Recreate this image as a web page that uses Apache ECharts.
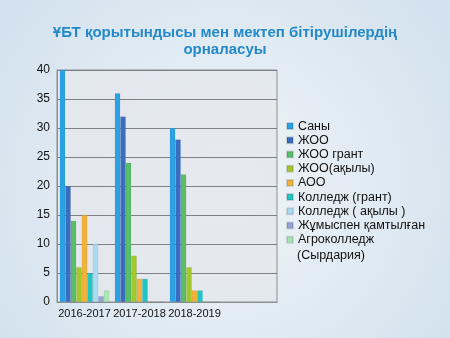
<!DOCTYPE html>
<html>
<head>
<meta charset="utf-8">
<script src="https://cdn.jsdelivr.net/npm/echarts@6/dist/echarts.min.js"></script>
<style>
  html, body { margin: 0; padding: 0; }
  #chart { width: 450px; height: 338px; }
</style>
</head>
<body>
<div id="chart"></div>
<script>
// School years (the last slot is left empty, giving the extra space on the right)
const years = ['2016-2017', '2017-2018', '2018-2019', ''];

// Graduates by destination, per year
const sany        = [40, 36, 30];
const zhoo        = [20, 32, 28];
const zhooGrant   = [14, 24, 22];
const zhooAkyly   = [6, 8, 6];
const aoo         = [15, 4, 2];
const kolGrant    = [5, 4, 2];
const kolAkyly    = [10, 0, 0];
const zhumys      = [1, 0, 0];
const agro        = [2, 0, 0];

const yTicks = [0, 5, 10, 15, 20, 25, 30, 35, 40];

const seriesDefs = [
  { name: 'Саны', data: sany, color: '#2aa3e6' },
  { name: 'ЖОО', data: zhoo, color: '#3a6cbf' },
  { name: 'ЖОО грант', data: zhooGrant, color: '#58be68' },
  { name: 'ЖОО(ақылы)', data: zhooAkyly, color: '#a3c82a' },
  { name: 'АОО', data: aoo, color: '#f3b23a' },
  { name: 'Колледж (грант)', data: kolGrant, color: '#1fc6c4' },
  { name: 'Колледж ( ақылы )', data: kolAkyly, color: '#a9dbf5' },
  { name: 'Жұмыспен қамтылған', data: zhumys, color: '#93a6d6' },
  { name: 'Агроколледж (Сырдария)', data: agro, color: '#a8e6b2' }
];

// The long last legend entry wraps: first word beside the marker, rest below
const legendFirstLine = { 'Агроколледж (Сырдария)': 'Агроколледж' };
const legendSecondLine = '(Сырдария)';

const chart = echarts.init(document.getElementById('chart'), null, { renderer: 'canvas' });

chart.setOption({
  backgroundColor: {
    type: 'radial', x: 0.5, y: 0.55, r: 0.8,
    colorStops: [
      { offset: 0, color: '#f1f5f8' },
      { offset: 1, color: '#d3e2ee' }
    ]
  },
  animation: false,
  textStyle: { fontFamily: 'Liberation Sans, Arial, sans-serif' },
  title: {
    text: 'ҰБТ қорытындысы мен мектеп бітірушілердің\nорналасуы',
    left: 'center',
    top: 19,
    textStyle: {
      fontSize: 15,
      fontWeight: 'bold',
      color: '#2389c9',
      lineHeight: 17,
      align: 'center'
    }
  },
  legend: {
    orient: 'vertical',
    left: 281,
    top: 114,
    itemWidth: 6,
    itemHeight: 6,
    itemGap: 0,
    icon: 'rect',
    selectedMode: false,
    formatter: name => legendFirstLine[name] || name,
    textStyle: { fontSize: 12.5, color: '#111', lineHeight: 14.2 },
    data: seriesDefs.map(s => s.name)
  },
  graphic: [{
    type: 'text',
    left: 297,
    top: 249,
    style: { text: legendSecondLine, fontSize: 12.5, fill: '#111',
             fontFamily: 'Liberation Sans, Arial, sans-serif' }
  }],
  grid: { left: 57, right: 173, top: 70, bottom: 36, show: true,
          backgroundColor: 'rgba(228,232,236,0.85)', borderColor: '#8a8f94', borderWidth: 1 },
  xAxis: {
    type: 'category',
    data: years,
    axisLine: { show: true, lineStyle: { color: '#8a8f94' } },
    axisTick: { show: false },
    axisLabel: { fontSize: 11, color: '#111', margin: 6, interval: 0 }
  },
  yAxis: {
    type: 'value',
    min: 0, max: 40, interval: 5,
    axisLine: { show: true, lineStyle: { color: '#8a8f94' } },
    axisTick: { show: false },
    axisLabel: { fontSize: 12, color: '#111', margin: 7,
                 formatter: v => yTicks.includes(v) ? String(v) : '' },
    splitLine: { lineStyle: { color: '#7c8186', width: 1 } }
  },
  series: seriesDefs.map(s => ({
    name: s.name,
    type: 'bar',
    data: s.data,
    barGap: '0%',
    barCategoryGap: '10%',
    itemStyle: { color: s.color, borderColor: 'rgba(0,0,0,0.12)', borderWidth: 0.5 }
  }))
});
</script>
</body>
</html>
